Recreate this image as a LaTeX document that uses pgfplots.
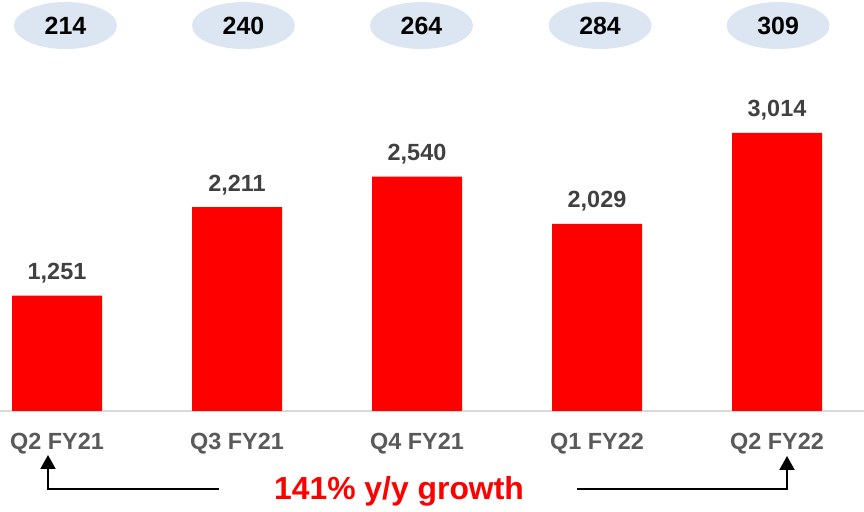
\documentclass[border=0pt]{standalone}
\usepackage{pgfplots}
\pgfplotsset{compat=1.18}
\usepackage{fontspec}
\setmainfont{Liberation Sans}
\usetikzlibrary{arrows.meta,shapes.geometric}
\definecolor{barred}{HTML}{FF0000}
\definecolor{valgray}{HTML}{404040}
\definecolor{catgray}{HTML}{595959}
\definecolor{ellblue}{HTML}{DCE6F2}
\definecolor{axgray}{HTML}{D9D9D9}
\tikzset{ell/.style={ellipse, fill=ellblue, minimum width=103bp, minimum height=47bp, inner sep=0pt, font=\bfseries\fontsize{25}{30}\selectfont, text=black}}
\begin{document}
\begin{tikzpicture}
\useasboundingbox (0,0) rectangle (864bp,512bp);
\begin{axis}[
  at={(0,101bp)}, anchor=south west,
  scale only axis, width=864bp, height=411bp,
  xmin=-0.3167, xmax=4.4833, ymin=0, ymax=4456,
  axis x line=bottom, axis y line=none,
  x axis line style={draw=axgray, line width=1.5bp, -},
  xtick=data,
  xticklabels={Q2 FY21, Q3 FY21, Q4 FY21, Q1 FY22, Q2 FY22},
  major tick length=0pt,
  xticklabel style={font=\bfseries\fontsize{23.5}{28}\selectfont, text=catgray, anchor=north, inner sep=0pt, yshift=-22bp},
  ytick=\empty,
  clip=false,
  /pgf/number format/.cd, 1000 sep={,}, assume math mode=true,
]
\addplot[ybar, bar width=90bp, fill=barred, draw=none,
  nodes near coords,
  nodes near coords style={font=\bfseries\fontsize{23.5}{28}\selectfont, text=valgray, anchor=base, inner sep=0pt, yshift=16bp},
] coordinates {(0,1251) (1,2211) (2,2540) (3,2029) (4,3014)};
\node[ell] at (axis cs:0.047,4179) {214};
\node[ell] at (axis cs:1.036,4179) {240};
\node[ell] at (axis cs:2.025,4179) {264};
\node[ell] at (axis cs:3.017,4179) {284};
\node[ell] at (axis cs:4.006,4179) {309};
\end{axis}
\node[anchor=base, text=barred, font=\bfseries\fontsize{32}{38}\selectfont, inner sep=0pt] at (399bp,13bp) {141\% y/y growth};
\draw[line width=2bp, -{Triangle[width=15bp,length=14bp]}] (219bp,23bp) -- (48bp,23bp) -- (48bp,57bp);
\draw[line width=2bp, -{Triangle[width=15bp,length=14bp]}] (577bp,23bp) -- (787bp,23bp) -- (787bp,56bp);
\end{tikzpicture}
\end{document}
